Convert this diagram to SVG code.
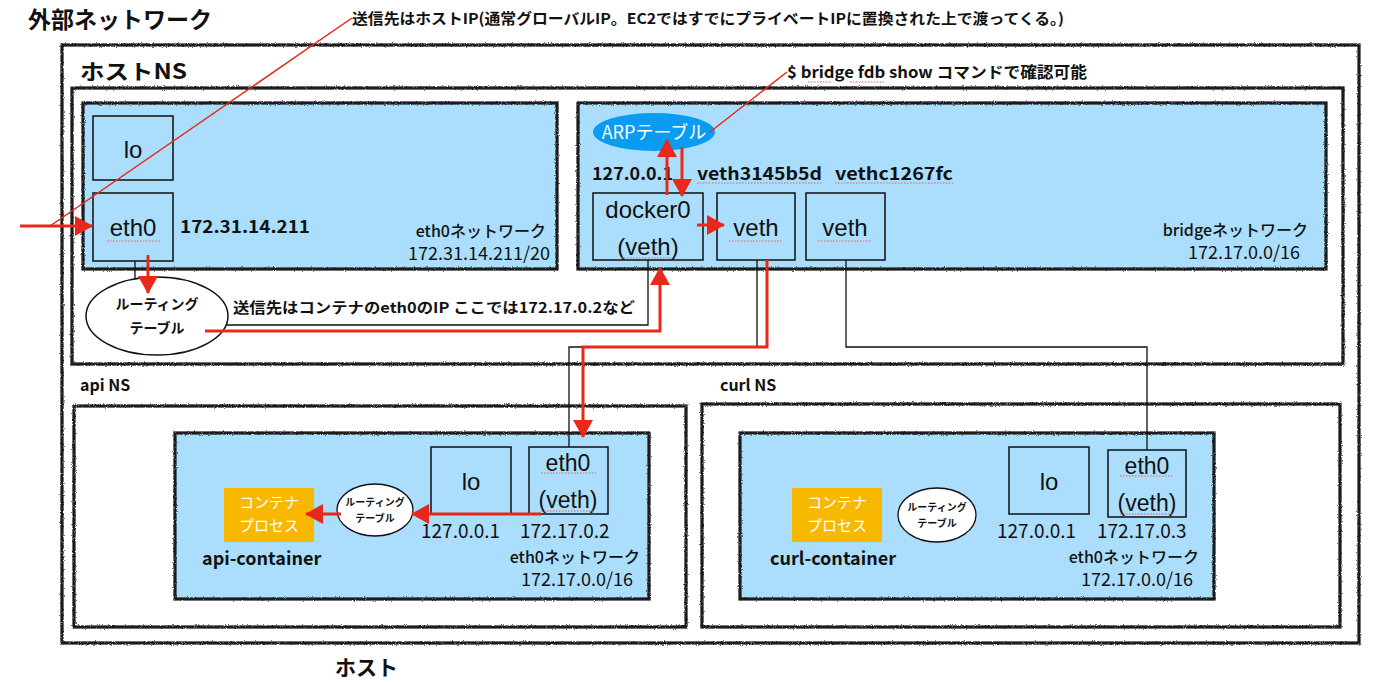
<svg xmlns="http://www.w3.org/2000/svg" width="1400" height="682" viewBox="0 0 1400 682">
<defs>
<style>
text{font-family:"Noto Sans CJK JP","Liberation Sans",sans-serif;fill:#111}
.b{font-weight:bold}
.m{font-weight:500}
.lbl{font-family:"Liberation Sans","Noto Sans CJK JP",sans-serif;text-anchor:middle}
.sk{fill:none;stroke:#1a1a1a;stroke-width:3.2;filter:url(#rough)}
.skb{fill:#AADEFC;stroke:#1a1a1a;stroke-width:3.2;filter:url(#rough)}
.box{fill:#AADEFC;stroke:#111;stroke-width:1.5}
.thin{fill:none;stroke:#111;stroke-width:1.3}
.red{fill:none;stroke:#E8281B;stroke-width:3}
.redt{fill:none;stroke:#E8281B;stroke-width:1.5}
.ul{stroke:#E46060;stroke-width:1.2;stroke-dasharray:1.5 1.5}
.org{fill:#F8B800}
</style>
<filter id="rough" x="-2%" y="-2%" width="104%" height="104%">
<feTurbulence type="fractalNoise" baseFrequency="0.9" numOctaves="2" seed="3" result="n"/>
<feDisplacementMap in="SourceGraphic" in2="n" scale="2.5" xChannelSelector="R" yChannelSelector="G"/>
</filter>
<marker id="ah" markerUnits="userSpaceOnUse" markerWidth="20" markerHeight="20" refX="17" refY="10" orient="auto">
<path d="M0,0 L18,10 L0,20 z" fill="#E8281B"/>
</marker>
</defs>

<g id="external">
<text x="28" y="28" class="b" font-size="23">外部ネットワーク</text>
<line x1="18" y1="45" x2="18" y2="666" class="sk"/>
<text x="335" y="675" class="b" font-size="21">ホスト</text>
</g>

<g id="host-ns">
<rect x="62" y="45" width="1297" height="598" class="sk"/>
<text x="80" y="79" class="b" font-size="21" textLength="107" lengthAdjust="spacingAndGlyphs">ホストNS</text>
<rect x="72" y="88" width="1271" height="276" class="sk"/>
</g>

<g id="eth0-network">
<rect x="83" y="103" width="474" height="166" class="skb"/>
<text x="546" y="237" class="m" font-size="16" text-anchor="end">eth0ネットワーク</text>
<text x="550" y="260" font-size="18" text-anchor="end">172.31.14.211/20</text>
</g>
<g id="host-lo">
<rect x="93" y="116" width="80" height="64" class="box"/>
<text x="133" y="158" class="lbl" font-size="24">lo</text>
</g>
<g id="host-eth0">
<rect x="93" y="193" width="80" height="68" class="box"/>
<text x="133" y="236" class="lbl" font-size="24">eth0</text>
<line x1="107" y1="241" x2="160" y2="241" class="ul"/>
<text x="180" y="233" class="b" font-size="17" textLength="130" lengthAdjust="spacingAndGlyphs">172.31.14.211</text>
</g>
<g id="host-routing">
<ellipse cx="157" cy="316" rx="71" ry="39" fill="#fff" stroke="#111" stroke-width="1.5"/>
<text x="157" y="309" class="b" font-size="14" text-anchor="middle">ルーティング</text>
<text x="157" y="333" class="b" font-size="14" text-anchor="middle">テーブル</text>
</g>
<text x="233" y="313" class="b" font-size="14.5" textLength="402" lengthAdjust="spacingAndGlyphs">送信先はコンテナのeth0のIP ここでは172.17.0.2など</text>

<g id="bridge-network">
<rect x="578" y="103" width="748" height="166" class="skb"/>
<text x="1308" y="236" class="m" font-size="16" text-anchor="end">bridgeネットワーク</text>
<text x="1300" y="259" font-size="18" text-anchor="end">172.17.0.0/16</text>
<text x="592" y="180" class="b" font-size="17" textLength="81" lengthAdjust="spacingAndGlyphs">127.0.0.1</text>
<text x="697" y="180" class="b" font-size="17" textLength="125" lengthAdjust="spacingAndGlyphs">veth3145b5d</text>
<text x="835" y="180" class="b" font-size="17" textLength="118" lengthAdjust="spacingAndGlyphs">vethc1267fc</text>
<line x1="697" y1="183" x2="822" y2="183" class="ul"/>
<line x1="835" y1="183" x2="953" y2="183" class="ul"/>
</g>
<g id="arp-table">
<ellipse cx="654" cy="132" rx="61" ry="19" fill="#0A9CF2"/>
<text x="654" y="139" font-size="18" text-anchor="middle" style="fill:#fff">ARPテーブル</text>
<text x="787" y="78" class="b" font-size="15.5" textLength="300" lengthAdjust="spacingAndGlyphs">$ bridge fdb show コマンドで確認可能</text>
<line x1="808" y1="82" x2="832" y2="82" class="ul"/>
<line x1="850" y1="82" x2="884" y2="82" class="ul"/>
</g>
<g id="docker0">
<rect x="593" y="193" width="110" height="67" class="box"/>
<text x="648" y="218" class="lbl" font-size="24">docker0</text>
<text x="648" y="255" class="lbl" font-size="24">(veth)</text>
<line x1="621" y1="258" x2="672" y2="258" class="ul"/>
</g>
<g id="veth1">
<rect x="717" y="193" width="78" height="67" class="box"/>
<text x="756" y="236" class="lbl" font-size="24">veth</text>
<line x1="729" y1="241" x2="782" y2="241" class="ul"/>
</g>
<g id="veth2">
<rect x="806" y="193" width="79" height="67" class="box"/>
<text x="845" y="236" class="lbl" font-size="24">veth</text>
<line x1="818" y1="241" x2="871" y2="241" class="ul"/>
</g>

<g id="api-ns">
<text x="80" y="391" class="b" font-size="16">api NS</text>
<rect x="74" y="406" width="612" height="221" class="sk"/>
<rect x="175" y="433" width="474" height="166" class="skb"/>
<text x="202" y="565" class="b" font-size="18">api-container</text>
<text x="640" y="563" class="m" font-size="16" text-anchor="end">eth0ネットワーク</text>
<text x="633" y="586" font-size="18" text-anchor="end">172.17.0.0/16</text>
<text x="421" y="538" font-size="19">127.0.0.1</text>
<text x="520" y="538" font-size="19">172.17.0.2</text>
</g>
<g id="api-process">
<rect x="224" y="488" width="90" height="54" class="org"/>
<text x="269" y="508" font-size="15" text-anchor="middle" style="fill:#fff">コンテナ</text>
<text x="269" y="531" font-size="15" text-anchor="middle" style="fill:#fff">プロセス</text>
</g>
<g id="api-routing">
<ellipse cx="375" cy="510" rx="38" ry="26" fill="#fff" stroke="#111" stroke-width="1.3"/>
<text x="375" y="506" class="b" font-size="10" text-anchor="middle">ルーティング</text>
<text x="375" y="522" class="b" font-size="10" text-anchor="middle">テーブル</text>
</g>
<g id="api-lo">
<rect x="431" y="447" width="80" height="67" class="box"/>
<text x="471" y="490" class="lbl" font-size="24">lo</text>
</g>
<g id="api-eth0">
<rect x="529" y="447" width="79" height="67" class="box"/>
<text x="568" y="471" class="lbl" font-size="23">eth0</text>
<text x="568" y="508" class="lbl" font-size="23">(veth)</text>
<line x1="541" y1="473" x2="596" y2="473" class="ul"/>
<line x1="541" y1="511" x2="594" y2="511" class="ul"/>
</g>

<g id="curl-ns">
<text x="720" y="391" class="b" font-size="16">curl NS</text>
<rect x="702" y="404" width="638" height="223" class="sk"/>
<rect x="740" y="433" width="474" height="166" class="skb"/>
<text x="770" y="565" class="b" font-size="18">curl-container</text>
<text x="1199" y="563" class="m" font-size="16" text-anchor="end">eth0ネットワーク</text>
<text x="1193" y="586" font-size="18" text-anchor="end">172.17.0.0/16</text>
<text x="997" y="538" font-size="19">127.0.0.1</text>
<text x="1097" y="538" font-size="19">172.17.0.3</text>
</g>
<g id="curl-process">
<rect x="792" y="488" width="90" height="54" class="org"/>
<text x="837" y="508" font-size="15" text-anchor="middle" style="fill:#fff">コンテナ</text>
<text x="837" y="531" font-size="15" text-anchor="middle" style="fill:#fff">プロセス</text>
</g>
<g id="curl-routing">
<ellipse cx="937" cy="515" rx="39" ry="27" fill="#fff" stroke="#111" stroke-width="1.3"/>
<text x="937" y="511" class="b" font-size="10" text-anchor="middle">ルーティング</text>
<text x="937" y="527" class="b" font-size="10" text-anchor="middle">テーブル</text>
</g>
<g id="curl-lo">
<rect x="1009" y="447" width="80" height="67" class="box"/>
<text x="1049" y="490" class="lbl" font-size="24">lo</text>
</g>
<g id="curl-eth0">
<rect x="1108" y="450" width="78" height="67" class="box"/>
<text x="1147" y="474" class="lbl" font-size="23">eth0</text>
<text x="1147" y="511" class="lbl" font-size="23">(veth)</text>
<line x1="1120" y1="476" x2="1174" y2="476" class="ul"/>
<line x1="1120" y1="514" x2="1173" y2="514" class="ul"/>
</g>

<g id="top-note">
<text x="352" y="24" class="b" font-size="15" textLength="712" lengthAdjust="spacingAndGlyphs">送信先はホストIP(通常グローバルIP。EC2ではすでにプライベートIPに置換された上で渡ってくる。)</text>
</g>

<g id="connectors">
<line x1="135" y1="261" x2="135" y2="278" class="thin"/>
<polyline points="226,325 648,325 648,260" class="thin"/>
<polyline points="757,260 757,347 569,347 569,447" class="thin"/>
<polyline points="846,260 846,347 1147,347 1147,450" class="thin"/>
<line x1="352" y1="18" x2="50" y2="226" class="redt"/>
<line x1="787" y1="72" x2="710" y2="132" class="redt"/>
<line x1="20" y1="226" x2="92" y2="226" class="red" marker-end="url(#ah)"/>
<line x1="148" y1="255" x2="148" y2="293" class="red" marker-end="url(#ah)"/>
<polyline points="205,331 660,331 660,268" class="red" marker-end="url(#ah)"/>
<line x1="667" y1="195" x2="667" y2="140" class="red" marker-end="url(#ah)"/>
<line x1="682" y1="147" x2="682" y2="196" class="red" marker-end="url(#ah)"/>
<line x1="697" y1="225" x2="724" y2="225" class="red" marker-end="url(#ah)"/>
<polyline points="767,260 767,347 583,347 583,437" class="red" marker-end="url(#ah)"/>
<line x1="541" y1="514" x2="412" y2="514" class="red" marker-end="url(#ah)"/>
<line x1="341" y1="514" x2="306" y2="514" class="red" marker-end="url(#ah)"/>
</g>
</svg>
